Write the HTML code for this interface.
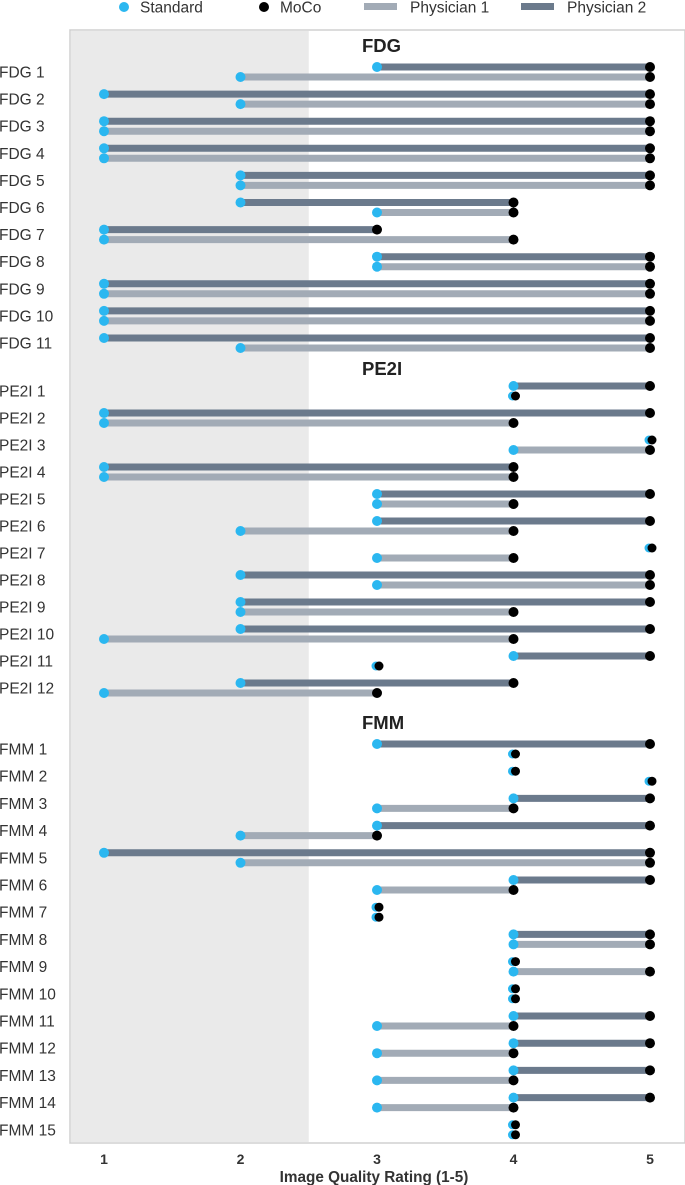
<!DOCTYPE html>
<html><head><meta charset="utf-8"><style>
body{margin:0;background:#fff;}
svg{display:block;font-family:"Liberation Sans",Arial,sans-serif;}
</style></head><body>
<svg id="chart" width="685" height="1185" xmlns="http://www.w3.org/2000/svg"></svg>
<script>
const fdgLabels=["FDG 1","FDG 2","FDG 3","FDG 4","FDG 5","FDG 6","FDG 7","FDG 8","FDG 9","FDG 10","FDG 11"];
const fdgP2Std=[3,1,1,1,2,2,1,3,1,1,1];
const fdgP2Moco=[5,5,5,5,5,4,3,5,5,5,5];
const fdgP1Std=[2,2,1,1,2,3,1,3,1,1,2];
const fdgP1Moco=[5,5,5,5,5,4,4,5,5,5,5];
const pe2iLabels=["PE2I 1","PE2I 2","PE2I 3","PE2I 4","PE2I 5","PE2I 6","PE2I 7","PE2I 8","PE2I 9","PE2I 10","PE2I 11","PE2I 12"];
const pe2iP2Std=[4,1,5,1,3,3,5,2,2,2,4,2];
const pe2iP2Moco=[5,5,5,4,5,5,5,5,5,5,5,4];
const pe2iP1Std=[4,1,4,1,3,2,3,3,2,1,3,1];
const pe2iP1Moco=[4,4,5,4,4,4,4,5,4,4,3,3];
const fmmLabels=["FMM 1","FMM 2","FMM 3","FMM 4","FMM 5","FMM 6","FMM 7","FMM 8","FMM 9","FMM 10","FMM 11","FMM 12","FMM 13","FMM 14","FMM 15"];
const fmmP2Std=[3,4,4,3,1,4,3,4,4,4,4,4,4,4,4];
const fmmP2Moco=[5,4,5,5,5,5,3,5,4,4,5,5,5,5,4];
const fmmP1Std=[4,5,3,2,2,3,3,4,4,4,3,3,3,3,4];
const fmmP1Moco=[4,5,4,3,5,4,3,5,5,4,4,4,4,4,4];
const xTicks=[1,2,3,4,5];

const svg=document.getElementById('chart');
const NS="http://www.w3.org/2000/svg";
function mk(tag,attrs,parent){const e=document.createElementNS(NS,tag);for(const k in attrs)e.setAttribute(k,attrs[k]);(parent||svg).appendChild(e);return e;}
const X=v=>104+(v-1)*136.5;
const BLUE="#2bb7f0",DARK="#6b7a8c",LIGHT="#a2abb6";

let bg=mk('rect',{x:70,y:30,width:615,height:1113,fill:'#fff',stroke:'#d0d0d0','stroke-width':1.5});


let sh=mk('rect',{x:71,y:31,width:X(2.5)-71,height:1111,fill:'#eaeaea'});



xTicks.forEach(t=>{
  const tx=mk('text',{x:X(t),y:1164,'text-anchor':'middle','font-size':14,'font-weight':'bold',fill:'#333'});
  tx.textContent=t;
  
  
});
const xt=mk('text',{x:374,y:1182,'text-anchor':'middle','font-size':15.3,'font-weight':'bold',fill:'#333'});
xt.textContent="Image Quality Rating (1-5)";



function dot(x,y,c){return mk('circle',{cx:x,cy:y,r:5,fill:c});}
function series(std,moco,y,color,name){
  if(std!==moco){
    const l=mk('line',{x1:X(std),x2:X(moco),y1:y,y2:y,stroke:color,'stroke-width':7});
    
    
    const a=dot(X(std),y,BLUE);
    
    
    const b=dot(X(moco),y,'#000');
    
    
  }else{
    const a=mk('circle',{cx:X(std)-1,cy:y,r:4.5,fill:BLUE});
    
    
    const b=mk('circle',{cx:X(moco)+2,cy:y,r:4.5,fill:'#000'});
    
    
  }
}
function section(title,titleY,y0,step,labels,p2s,p2m,p1s,p1m){
  const t=mk('text',{x:362,y:titleY,'font-size':18.5,'font-weight':'bold',fill:'#222'});
  t.textContent=title;
  
  
  labels.forEach((lb,i)=>{
    const y=y0+i*step;
    const tl=mk('text',{x:-1,y:y+5.5,'font-size':15.5,fill:'#333'});
    tl.textContent=lb;
    
    
    series(p1s[i],p1m[i],y+5,LIGHT,'physician1');
    series(p2s[i],p2m[i],y-5,DARK,'physician2');
  });
}
section("FDG",52,72,27.1,fdgLabels,fdgP2Std,fdgP2Moco,fdgP1Std,fdgP1Moco);
section("PE2I",375,391,27.0,pe2iLabels,pe2iP2Std,pe2iP2Moco,pe2iP1Std,pe2iP1Moco);
section("FMM",729,749,27.2,fmmLabels,fmmP2Std,fmmP2Moco,fmmP1Std,fmmP1Moco);

const lg=mk('g',{});


const items=[["Standard","dot",BLUE,120],["MoCo","dot","#000",260],["Physician 1","bar",LIGHT,366],["Physician 2","bar",DARK,523]];
items.forEach(([lab,kind,c,x])=>{
  if(kind==='dot'){mk('circle',{cx:x+4,cy:7,r:5,fill:c},lg);}
  else{mk('rect',{x:x-2,y:3,width:33,height:7,fill:c},lg);}
  const t=mk('text',{x:kind==='dot'?x+20:x+44,y:12.5,'font-size':15.5,fill:'#333'},lg);
  t.textContent=lab;
  
  
});
</script>
</body></html>
